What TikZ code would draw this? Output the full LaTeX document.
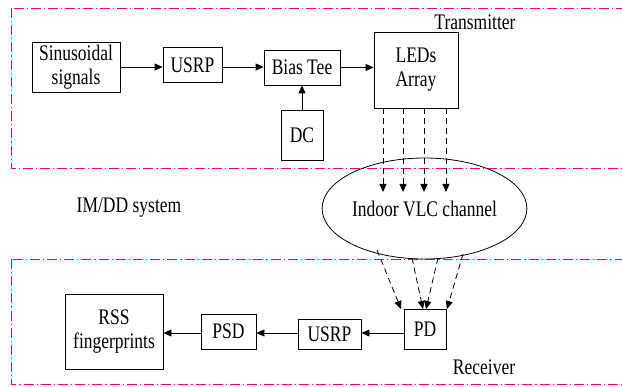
\documentclass[tikz,border=0pt]{standalone}
\usepackage{fontspec}
\usepackage{graphicx}
\setmainfont{Liberation Serif}
\usetikzlibrary{arrows.meta,shapes.geometric}
\newcommand{\stt}[1]{\scalebox{1}[1.27]{#1}}
\begin{document}
\begin{tikzpicture}[x=1pt,y=-1pt,
  font=\fontsize{17.5}{24}\selectfont,
  blk/.style={draw,line width=0.8pt,align=center,inner sep=0pt},
  frame/.style={draw=magenta,line width=0.8pt,dash pattern=on 10pt off 3pt on 1.2pt off 3pt},
  arr/.style={line width=0.8pt,-{Triangle[length=8pt,width=7pt]}},
  darr/.style={line width=0.8pt,dash pattern=on 6pt off 4pt,-{Triangle[length=8pt,width=7pt]}}]
\useasboundingbox (0,0) rectangle (622,387);
\clip (0,0) rectangle (622,387);
\draw[frame] (11,8) rectangle (640,168);
\draw[frame] (11,259) rectangle (640,384);
% transmitter
\node[blk,minimum width=88pt,minimum height=50pt] (sin) at (76,67) {\stt{Sinusoidal}\\\stt{signals}};
\node[blk,minimum width=59pt,minimum height=35pt] (usrp1) at (192.5,65) {\stt{USRP}};
\node[blk,minimum width=76pt,minimum height=35pt] (bias) at (302,67.5) {\stt{Bias Tee}};
\node[blk,minimum width=84pt,minimum height=76pt] (leds) at (416,70) {\stt{LEDs}\\\stt{Array}};
\node[blk,minimum width=42pt,minimum height=50pt] (dc) at (302,135) {\stt{DC}};
\node[anchor=east] (tx) at (519,22) {\stt{Transmitter}};
\draw[arr] (sin.east) -- (usrp1.west |- sin.east);
\draw[arr] (usrp1.east |- sin.east) -- (bias.west |- sin.east);
\draw[arr] (bias.east) -- (leds.west |- bias.east);
\draw[arr] (dc.north) -- (bias.south);
% channel
\node[draw,line width=0.8pt,ellipse,minimum width=169pt,minimum height=101pt,inner sep=0pt] (ch) at (424.5,208.5) {\stt{Indoor VLC channel}};
\node (imdd) at (129,208) {\stt{IM/DD system}};
\foreach \i/\x in {1/383,2/403,3/424,4/446}{
  \coordinate (ls\i) at (\x,108);
  \coordinate (le\i) at (\x,192);
  \draw[darr] (ls\i) -- (le\i);
}
% receiver
\node[blk,minimum width=42pt,minimum height=40pt] (pd) at (425,329) {\stt{PD}};
\node[blk,minimum width=63pt,minimum height=30pt] (usrp2) at (329.5,334) {\stt{USRP}};
\node[blk,minimum width=55pt,minimum height=35pt] (psd) at (228.5,331.5) {\stt{PSD}};
\node[blk,minimum width=98pt,minimum height=75pt] (rss) at (114,331.5) {\stt{RSS}\\\stt{fingerprints}};
\node (rx) at (484,367) {\stt{Receiver}};
\coordinate (ay) at (0,333);
\draw[arr] (pd.west |- ay) -- (usrp2.east |- ay);
\draw[arr] (usrp2.west |- ay) -- (psd.east |- ay);
\draw[arr] (psd.west |- ay) -- (rss.east |- ay);
\coordinate (cs1) at (377,250); \coordinate (ce1) at (401,309);
\coordinate (cs2) at (412,258); \coordinate (ce2) at (423,309);
\coordinate (cs3) at (438,258); \coordinate (ce3) at (426,309);
\coordinate (cs4) at (463,254); \coordinate (ce4) at (447,309);
\foreach \i in {1,...,4}{\draw[darr] (cs\i) -- (ce\i);}
\end{tikzpicture}
\end{document}
